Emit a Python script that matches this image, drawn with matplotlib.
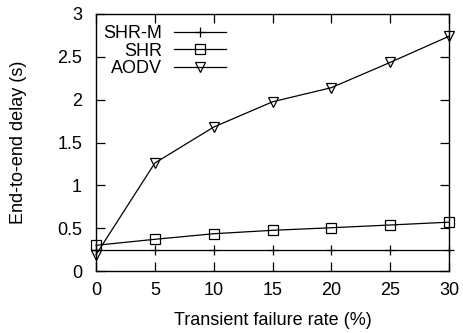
import matplotlib
matplotlib.use("Agg")
import matplotlib.pyplot as plt

plt.rcParams['font.family'] = ['Liberation Sans', 'DejaVu Sans']

x = [0, 5, 10, 15, 20, 25, 30]
shr_m = [0.245, 0.245, 0.245, 0.245, 0.245, 0.245, 0.245]
shr = [0.30, 0.37, 0.435, 0.475, 0.505, 0.537, 0.57]
aodv = [0.19, 1.26, 1.68, 1.975, 2.14, 2.435, 2.74]
xticks = [0, 5, 10, 15, 20, 25, 30]
yticks = [0, 0.5, 1, 1.5, 2, 2.5, 3]
ytick_labels = ['0', '0.5', '1', '1.5', '2', '2.5', '3']

fig = plt.figure(figsize=(4.63, 3.33), dpi=100)
ax = fig.add_axes([96/463, 1-271/333, (449-96)/463, (271-14)/333])

ax.plot(x, shr_m, color='black', lw=0.9, marker='+', ms=7, mew=0.9, label='SHR-M', clip_on=False)
ax.plot(x, shr, color='black', lw=0.9, marker='s', ms=7, mfc='none', mew=0.9, label='SHR', clip_on=False)
ax.plot(x, aodv, color='black', lw=0.9, marker='v', ms=7, mfc='none', mew=0.9, label='AODV', clip_on=False)

ax.set_xlim(0, 30)
ax.set_ylim(0, 3)
ax.set_xticks(xticks)
ax.set_yticks(yticks)
ax.set_yticklabels(ytick_labels)
ax.tick_params(direction='in', length=6.5, width=0.9, top=True, right=True, labelsize=13)
ax.tick_params(axis='y', pad=10)
ax.tick_params(axis='x', pad=8)
for s in ax.spines.values():
    s.set_linewidth(1.0)

ax.set_xlabel('Transient failure rate (%)', fontsize=13)
ax.set_ylabel('End-to-end delay (s)', fontsize=13)
ax.xaxis.set_label_coords(0.5, -(312 - 271) / 257)
ax.yaxis.set_label_coords((27 - 96) / 353, 0.5)

leg = ax.legend(loc='upper left', bbox_to_anchor=((103 - 96) / 353, (271 - 25) / 257),
                markerfirst=False, frameon=False, fontsize=13,
                handlelength=2.9, handletextpad=0.65, labelspacing=0.03,
                borderaxespad=0, borderpad=0)

fig.savefig('out.png', dpi=100)
